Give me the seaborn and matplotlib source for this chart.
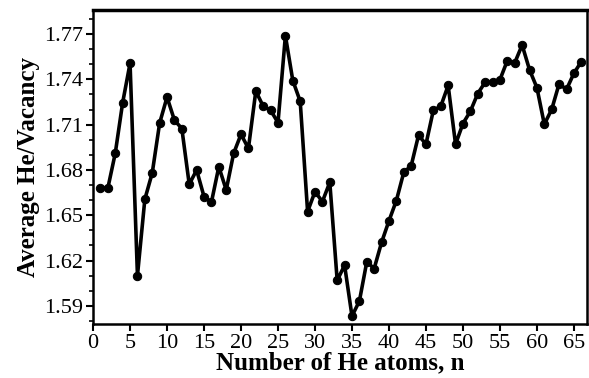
import matplotlib
matplotlib.use("Agg")
import matplotlib.pyplot as plt
import seaborn as sns
import pandas as pd
import numpy as np
from matplotlib.ticker import MultipleLocator

n_atoms = list(range(1, 67))
avg_he_vac = [
    1.668, 1.668, 1.691, 1.7245, 1.7506, 1.610, 1.6606, 1.678, 1.711, 1.7282,
    1.7129, 1.7074, 1.6705, 1.6799, 1.6623, 1.6586, 1.6821, 1.6667, 1.6909, 1.7036,
    1.6942, 1.7322, 1.7221, 1.7195, 1.7113, 1.7689, 1.7392, 1.7254, 1.6524, 1.6656,
    1.6590, 1.6718, 1.6068, 1.6169, 1.5832, 1.5931, 1.6191, 1.6147, 1.632, 1.6463,
    1.6597, 1.6784, 1.6827, 1.703, 1.697, 1.7195, 1.7221, 1.7359, 1.697, 1.7107,
    1.7188, 1.7305, 1.7381, 1.7381, 1.7397, 1.7524, 1.7509, 1.7627, 1.7463, 1.7344,
    1.7102, 1.7201, 1.737, 1.7333, 1.744, 1.7517,
]
x_ticks = list(range(0, 70, 5))
y_ticks = [1.59, 1.62, 1.65, 1.68, 1.71, 1.74, 1.77]
x_label = "Number of He atoms, n"
y_label = "Average He/Vacancy"

sns.set_theme(style="ticks")
plt.rcParams['font.family'] = ['Liberation Serif', 'DejaVu Serif']
plt.rcParams['text.color'] = 'black'
plt.rcParams['axes.labelcolor'] = 'black'
plt.rcParams['xtick.color'] = 'black'
plt.rcParams['ytick.color'] = 'black'

df = pd.DataFrame({"n": n_atoms, "v": avg_he_vac})

fig = plt.figure(figsize=(5.89, 3.78), dpi=100)
ax = fig.add_axes([0.158, 0.143, 0.839, 0.831])
sns.lineplot(data=df, x="n", y="v", ax=ax, color="black", linewidth=2.6,
             marker="o", markersize=6, markeredgecolor="black",
             markerfacecolor="black")

ax.set_xlim(0, 66.8)
ax.set_ylim(1.578, 1.786)
ax.set_xticks(x_ticks)
ax.set_yticks(y_ticks)
ax.set_yticklabels([f"{t:.2f}" for t in y_ticks])
ax.yaxis.set_minor_locator(MultipleLocator(0.01))
ax.tick_params(axis="both", which="major", labelsize=16, length=5, width=1.5,
               direction="out", pad=2, color="black", labelcolor="black")
ax.tick_params(axis="y", which="minor", length=3, width=1.2, color="black")
ax.set_xlabel(x_label, fontsize=18, fontweight="bold", labelpad=-1, color="black")
ax.set_ylabel(y_label, fontsize=18, fontweight="bold", labelpad=3, color="black")
for side in ["left", "bottom", "right", "top"]:
    ax.spines[side].set_visible(True)
    ax.spines[side].set_linewidth(1.8)
    ax.spines[side].set_color("black")
ax.spines["top"].set_linewidth(2.5)

fig.savefig("out.png", dpi=100)
